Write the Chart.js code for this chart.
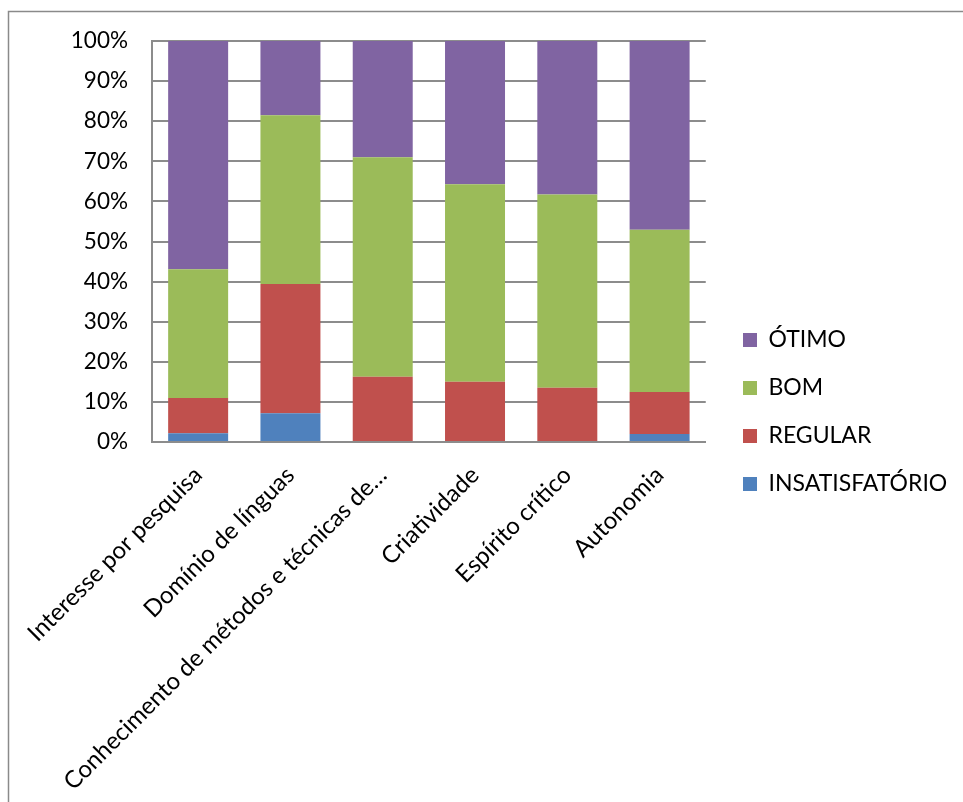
<!DOCTYPE html>
<html>
<head>
<meta charset="utf-8">
<script src="https://cdn.jsdelivr.net/npm/chart.js@4"></script>
<style>
  body { margin: 0; background: #fff; }
  canvas { display: block; }
</style>
</head>
<body>
<canvas id="myChart" width="963" height="802"></canvas>
<script>
var categorias = ['Interesse por pesquisa', 'Domínio de línguas', 'Conhecimento de métodos e técnicas de…', 'Criatividade', 'Espírito crítico', 'Autonomia'];
var insatisfatorio = [2.2, 7.2, 0, 0, 0, 2.0];
var regular = [8.8, 32.2, 16.3, 15.0, 13.5, 10.5];
var bom = [32.1, 42.1, 54.7, 49.3, 48.2, 40.4];
var otimo = [56.9, 18.5, 29.0, 35.7, 38.3, 47.1];
var yTicks = [0, 10, 20, 30, 40, 50, 60, 70, 80, 90, 100];

var grid = '#8c8c8c';
var fonteY = { family: 'Lato', size: 22.5 };
var fonteX = { family: 'Lato', size: 24 };
var fonteLeg = { family: 'Lato', size: 23 };

// moldura cinza do gráfico (como no Excel)
var moldura = {
	id: 'moldura',
	afterDraw: function (chart) {
		var c = chart.ctx;
		c.save();
		c.strokeStyle = '#8a8a8a';
		c.lineWidth = 1.5;
		c.beginPath();
		c.moveTo(8.5, 802);
		c.lineTo(8.5, 11.5);
		c.lineTo(963, 11.5);
		c.stroke();
		c.restore();
	}
};

// legenda centrada na altura toda, à direita
var posLegenda = {
	id: 'posLegenda',
	afterLayout: function (chart) {
		var lg = chart.legend;
		var w = lg.width;
		lg.left = 718;
		lg.right = 718 + w;
		lg.top = 22;
		lg.bottom = 802;
	}
};

var ctx = document.getElementById('myChart').getContext('2d');
var myChart = new Chart(ctx, {
	type: 'bar',
	data: {
		labels: categorias,
		datasets: [{
			label: 'INSATISFATÓRIO',
			backgroundColor: '#4F81BD',
			data: insatisfatorio
		}, {
			label: 'REGULAR',
			backgroundColor: '#C0504D',
			data: regular
		}, {
			label: 'BOM',
			backgroundColor: '#9BBB59',
			data: bom
		}, {
			label: 'ÓTIMO',
			backgroundColor: '#8064A2',
			data: otimo
		}]
	},
	options: {
		responsive: false,
		animation: false,
		datasets: { bar: { barPercentage: 0.65, categoryPercentage: 1 } },
		layout: { padding: { top: 41, left: 0, right: 22, bottom: 0 } },
		plugins: {
			tooltip: { enabled: false },
			legend: {
				position: 'right',
				reverse: true,
				labels: {
					font: fonteLeg,
					color: '#000',
					boxWidth: 14,
					boxHeight: 14,
					padding: 25
				}
			}
		},
		scales: {
			x: {
				stacked: true,
				grid: { display: false },
				border: { display: true, color: grid, width: 2 },
				ticks: {
					font: fonteX,
					color: '#000',
					maxRotation: 45,
					minRotation: 45,
					autoSkip: false,
					padding: 11
				},
				afterFit: function (scale) { scale.height = 360; }
			},
			y: {
				stacked: true,
				min: 0,
				max: 100,
				afterBuildTicks: function (scale) {
					scale.ticks = yTicks.map(function (v) { return { value: v }; });
				},
				grid: { color: grid, lineWidth: 2, drawTicks: false },
				border: { display: true, color: grid, width: 2 },
				ticks: {
					font: fonteY,
					color: '#000',
					padding: 24,
					callback: function (v) { return v + '%'; }
				},
				afterFit: function (scale) { scale.width = 152; }
			}
		}
	},
	plugins: [moldura, posLegenda]
});
</script>
</body>
</html>
